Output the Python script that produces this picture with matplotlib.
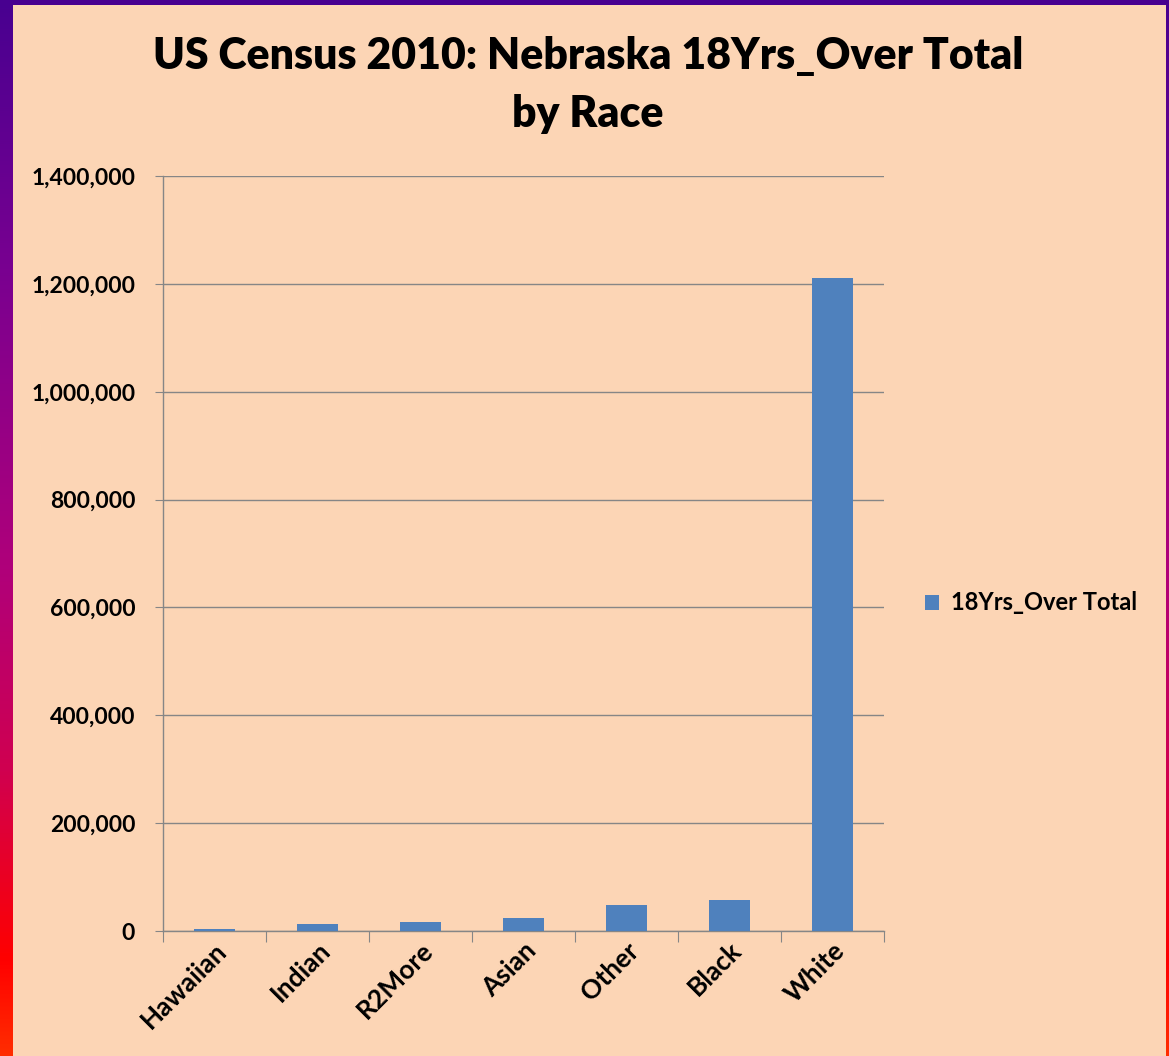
import matplotlib
matplotlib.use("Agg")
import matplotlib.pyplot as plt
import numpy as np
from matplotlib.colors import LinearSegmentedColormap
from matplotlib.patches import Rectangle
from matplotlib.ticker import FuncFormatter

categories = ["Hawaiian", "Indian", "R2More", "Asian", "Other", "Black", "White"]
values = [3500, 13000, 17500, 24500, 48500, 57500, 1210000]
series_name = "18Yrs_Over Total"
title = "US Census 2010: Nebraska 18Yrs_Over Total\nby Race"

FONT = "Lato"
W, H = 1169, 1056
fig = plt.figure(figsize=(W / 100, H / 100), dpi=100)

# gradient border background
bg = fig.add_axes([0, 0, 1, 1], zorder=0)
bg.set_axis_off()
stops = [(0.0, (72/255, 0, 144/255)),
         (0.26, (122/255, 0, 144/255)),
         (0.54, (176/255, 0, 122/255)),
         (0.73, (208/255, 0, 80/255)),
         (0.91, (255/255, 0, 0)),
         (1.0, (255/255, 45/255, 0))]
cmap = LinearSegmentedColormap.from_list("border", stops)
grad = np.linspace(0, 1, 512).reshape(-1, 1)
bg.imshow(grad, aspect="auto", cmap=cmap, extent=[0, 1, 0, 1], origin="upper")
bg.add_patch(Rectangle((13 / W, 0), (1166 - 13) / W, (H - 5) / H,
                       facecolor="#FCD5B5", edgecolor="none"))
bg.set_xlim(0, 1)
bg.set_ylim(0, 1)

# main axes: x 163..884, y 176..931 (pixels from top)
left = 163 / W
right = 884 / W
top = 1 - 176 / H
bottom = 1 - 931 / H
ax = fig.add_axes([left, bottom, right - left, top - bottom], zorder=1)
ax.set_facecolor("none")

x = np.arange(len(categories))
bars = ax.bar(x, values, width=0.4, color="#4F81BD", zorder=3, label=series_name)
ax.set_xlim(-0.5, len(categories) - 0.5)
ax.set_ylim(0, 1400000)
ax.set_yticks(np.arange(0, 1400001, 200000))
ax.yaxis.set_major_formatter(FuncFormatter(lambda v, p: f"{int(v):,}"))
ax.grid(axis="y", color="#868686", linewidth=1.0, zorder=0)
ax.set_axisbelow(True)
for s in ["top", "right"]:
    ax.spines[s].set_visible(False)
for s in ["left", "bottom"]:
    ax.spines[s].set_color("#868686")
    ax.spines[s].set_linewidth(1.0)

ax.set_xticks(np.arange(-0.5, len(categories), 1.0), minor=False)
ax.set_xticklabels([])
ax.set_xticks(x, minor=True)
ax.set_xticklabels(categories, minor=True, rotation=45, ha="right",
                   rotation_mode="anchor", fontsize=19, fontweight="bold",
                   family=FONT)
ax.tick_params(axis="x", which="major", length=8, color="#868686", direction="out")
ax.tick_params(axis="x", which="minor", length=0, pad=5)
ax.tick_params(axis="y", length=6, color="#868686", pad=14)
for lab in ax.get_yticklabels():
    lab.set_fontsize(16.5)
    lab.set_fontweight("bold")
    lab.set_family(FONT)

fig.text(588 / W, 1 - 85 / H, title, ha="center", va="center",
         fontsize=30.8, fontweight="heavy", family=FONT, linespacing=1.55)

leg = fig.legend(handles=[bars], labels=[series_name], loc="center left",
                 bbox_to_anchor=(904 / W, 1 - 603 / H), frameon=False,
                 prop={"family": FONT, "weight": "bold", "size": 17},
                 handlelength=0.6, handleheight=0.6, handletextpad=0.5)

fig.savefig("out.png", dpi=100)
